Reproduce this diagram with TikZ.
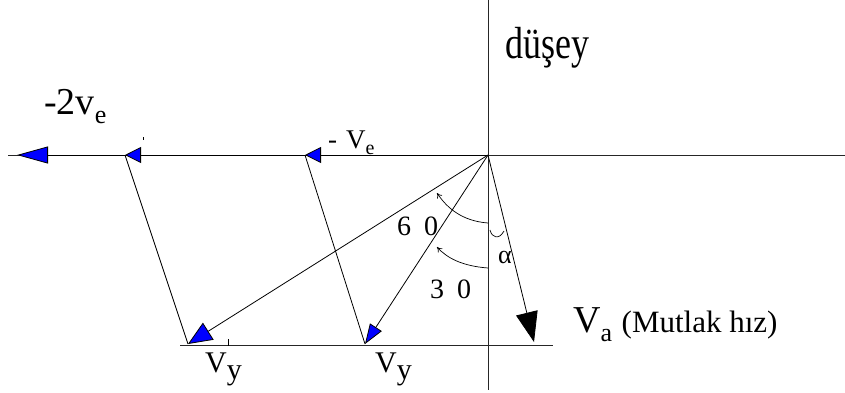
\documentclass[tikz,border=0pt]{standalone}
\usepackage{fontspec}
\setmainfont{Liberation Serif}
\usetikzlibrary{arrows.meta}
\newcommand{\fs}[1]{\fontsize{#1}{#1}\selectfont}
\newcommand{\lowsub}[2]{\raisebox{-0.25em}{\fs{#1}#2}}
\begin{document}
\begin{tikzpicture}[x=1pt,y=-1pt,
  axis/.style={line width=0.9pt,draw=black!85},
  vec/.style={line width=0.8pt},
  bighead/.style={-{Triangle[length=31pt,width=17pt,fill=blue]}},
  smallhead/.style={-{Triangle[length=16pt,width=16pt,fill=blue]}},
  diaghead/.style={-{Triangle[length=24pt,width=20pt,fill=blue]}},
  diaghead2/.style={-{Triangle[length=20pt,width=14pt,fill=blue]}},
  blackhead/.style={-{Triangle[length=30pt,width=22pt,fill=black]}},
  anglearrow/.style={line width=0.7pt,-{To[length=5pt,width=6pt]}},
  tick/.style={line width=0.6pt},
  lbl/.style={inner sep=0pt,anchor=base west}]
\useasboundingbox (0,0) rectangle (845,392);
% axes
\coordinate (O) at (488,155);
\coordinate (vtop) at (488,0);
\coordinate (vbot) at (488,390);
\coordinate (hl) at (8,155);
\coordinate (hr) at (845,155);
\coordinate (bl) at (180,345);
\coordinate (br) at (553,345);
\draw[axis] (vtop) -- (vbot);
\draw[axis] (hl) -- (hr);
\draw[axis] (bl) -- (br);
% points
\coordinate (L2) at (17,155);
\coordinate (A) at (125,155);
\coordinate (B) at (305,155);
\coordinate (P1) at (188,344);
\coordinate (P2) at (365,344);
\coordinate (Va) at (534,342);
% horizontal vectors
\draw[vec,smallhead] (O) -- (B);
\draw[vec,smallhead] (B) -- (A);
\draw[vec,bighead] (A) -- (L2);
% slanted lines
\draw[vec] (A) -- (P1);
\draw[vec] (B) -- (P2);
\draw[vec,diaghead] (O) -- (P1);
\draw[vec,diaghead2] (O) -- (P2);
\draw[vec,blackhead] (O) -- (Va);
% small marks
\coordinate (m1a) at (228,339);
\coordinate (m1b) at (228,346);
\draw[tick] (m1a) -- (m1b);
\coordinate (m2a) at (143,137);
\coordinate (m2b) at (143,139.5);
\draw[tick] (m2a) -- (m2b);
% angle arrows
\coordinate (a1s) at (488,223);
\coordinate (a1e) at (437,193);
\coordinate (a2s) at (488,268);
\coordinate (a2e) at (437,247);
\coordinate (a3s) at (490,230);
\coordinate (a3e) at (504,231);
\draw[anglearrow] (a1s) .. controls (462,221) and (447,208) .. (a1e);
\draw[anglearrow] (a2s) .. controls (462,266) and (447,258) .. (a2e);
\draw[line width=0.7pt] (a3s) .. controls (492,238) and (499,240) .. (a3e);
% labels
\node[lbl] (t2ve) at (44,114) {\fs{38}-2v\lowsub{26}{e}};
\node[lbl] (tdusey) at (505,58) {\scalebox{1}[1.25]{\fs{36}düşey}};
\node[lbl] (tve) at (328,148) {\fs{27}-\hspace{9pt}V\lowsub{20}{e}};
\node[lbl] (t60) at (397,235) {\fs{28}6\hspace{13pt}0};
\node[lbl] (t30) at (430,298) {\fs{28}3\hspace{13pt}0};
\node[lbl] (talpha) at (498,263) {\fs{26}α};
\node[lbl] (tvy1) at (205,372) {\fs{30}V\lowsub{30}{y}};
\node[lbl] (tvy2) at (375,372) {\fs{30}V\lowsub{30}{y}};
\node[lbl] (tva) at (573,332) {\fs{38}V\lowsub{26}{a} \fs{31}(Mutlak hız)};
\end{tikzpicture}
\end{document}
